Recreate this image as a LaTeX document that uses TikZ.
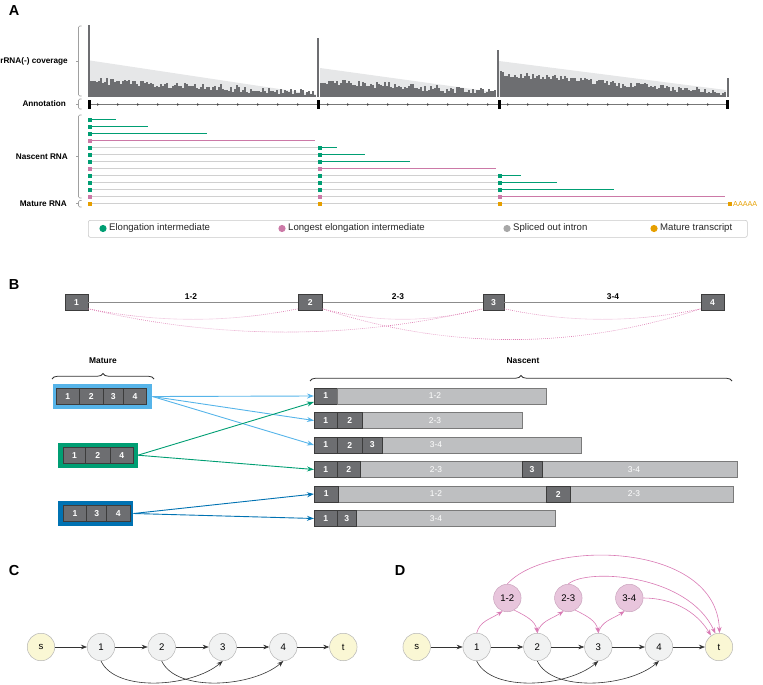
\documentclass[tikz,border=0pt]{standalone}
\usepackage{fontspec}
\setmainfont{Liberation Sans}
\usetikzlibrary{arrows.meta,decorations.pathreplacing}
\definecolor{cgreen}{HTML}{009E73}
\definecolor{cpink}{HTML}{CC79A7}
\definecolor{corange}{HTML}{E69F00}
\definecolor{csky}{HTML}{56B4E9}
\definecolor{cblue}{HTML}{0072B2}
\definecolor{covc}{HTML}{6D6E71}
\definecolor{trig}{HTML}{E6E7E8}
\definecolor{exfill}{HTML}{6D6E71}
\definecolor{exdraw}{HTML}{3C3C3C}
\definecolor{infill}{HTML}{BEBFC1}
\definecolor{indraw}{HTML}{7A7A7A}
\definecolor{rowgray}{HTML}{D0D0D0}
\definecolor{brgray}{HTML}{A0A0A0}
\definecolor{dotpink}{HTML}{DE7FB4}
\definecolor{nodegray}{HTML}{F1F2F2}
\definecolor{nodeyel}{HTML}{FAF7D4}
\definecolor{nodepink}{HTML}{E8C5DC}
\definecolor{nodepinkd}{HTML}{C9A3BD}
\definecolor{arrpink}{HTML}{D97AB4}
\definecolor{legdot}{HTML}{A7A7A7}
\definecolor{legborder}{HTML}{C8C8C8}
\definecolor{annline}{HTML}{777777}
\definecolor{darkarr}{HTML}{333333}
\definecolor{circdraw}{HTML}{B5B5B5}
\newcommand\trkbr[3]{\draw[bracket] (81.5,#1) -- (78.5,#1) -- (78.5,#2) -- (81.5,#2); \draw[bracket] (78.5,#3) -- (75.5,#3);}
\newcommand\nseg[6]{\node[#5, anchor=west, minimum width={#3-#2}] (#1) at (#2,#4) {#6};}
\tikzset{
  panel/.style={font=\bfseries\fontsize{14.5}{15}\selectfont},
  tlabel/.style={font=\bfseries\fontsize{8.2}{9}\selectfont, anchor=east, inner sep=0pt},
  bracket/.style={draw=brgray, line width=0.6pt, rounded corners=1.2pt},
  legtext/.style={font=\fontsize{9.6}{11}\selectfont, anchor=west, inner sep=0pt, text=black!85},
  exbox/.style={rectangle, draw=exdraw, fill=exfill, text=white, font=\bfseries\fontsize{8.6}{9}\selectfont, inner sep=0pt, minimum height=16, line width=0.6pt},
  inbox/.style={rectangle, draw=indraw, fill=infill, inner sep=0pt, minimum height=16, line width=0.6pt},
  inlab/.style={text=white, font=\fontsize{8.4}{9}\selectfont, inner sep=0pt},
  blabel/.style={font=\bfseries\fontsize{8.4}{9}\selectfont, inner sep=0pt},
  dotarc/.style={dotpink, line width=0.6pt, dash pattern=on 0.8pt off 1.2pt},
  bracestyle/.style={draw=black!80, line width=0.8pt, decorate, decoration={brace, amplitude=5.5pt}},
  matbox/.style={rectangle, inner sep=0pt, minimum height=25},
  arr/.style={line width=0.9pt, -{Stealth[length=7pt,width=5pt]}},
  gnode/.style={circle, draw=circdraw, fill=nodegray, minimum size=27.5, inner sep=0pt, line width=0.5pt, font=\fontsize{9.6}{10}\selectfont},
  ynode/.style={gnode, fill=nodeyel},
  pnode/.style={gnode, fill=nodepink, draw=nodepinkd},
  carr/.style={draw=darkarr, line width=0.6pt, -{Stealth[length=6pt,width=4.5pt]}},
  parr/.style={draw=arrpink, line width=0.6pt, -{Stealth[length=6pt,width=4.5pt]}},
}
\begin{document}
\begin{tikzpicture}[x=1pt,y=-1pt]
\useasboundingbox (0,0) rectangle (763,685);
% panel letters
\node[panel] (lA) at (14,11) {A};
\node[panel] (lB) at (14,285) {B};
\node[panel] (lC) at (14,571) {C};
\node[panel] (lD) at (400,571) {D};

% ---------- coverage ----------
\fill[trig] (90,60.5) -- (316,94.5) -- (316,96.5) -- (90,96.5) -- cycle;
\fill[trig] (320,68) -- (494,92) -- (494,96.5) -- (320,96.5) -- cycle;
\fill[trig] (499,61) -- (726,90) -- (726,96.5) -- (499,96.5) -- cycle;
\pgfmathsetseed{12345}
\foreach \xs/\xe/\ha/\hb in {90/316/16/3, 320/496/15/5, 500/726/23/4}{
  \pgfmathtruncatemacro\cvn{(\xe-\xs)/2-1}
  \foreach \k in {0,...,\cvn}{
    \pgfmathsetmacro\cvx{\xs+2*\k}
    \pgfmathsetmacro\cvh{max(1.5,\ha+(\hb-\ha)*\k/\cvn+3*rand+3*rand*rand*rand)}
    \fill[covc] (\cvx,96.5) rectangle ++(2.1,-\cvh);
  }
}
\fill[covc] (87.5,96.5) rectangle (90,25.5);
\fill[covc] (316.7,96.5) rectangle (319.2,38.3);
\fill[covc] (496.7,96.5) rectangle (499,50);
\fill[covc] (727,96.5) rectangle (729.3,78.3);

% brackets and labels
\trkbr{26}{96}{61}
\trkbr{99}{109}{104}
\trkbr{115}{198}{156.5}
\trkbr{200.5}{207}{203.7}
\node[tlabel] (t1) at (68,61) {rRNA(-) coverage};
\node[tlabel] (t2) at (66,104) {Annotation};
\node[tlabel] (t3) at (68,156.5) {Nascent RNA};
\node[tlabel] (t4) at (67,204) {Mature RNA};

% annotation
\draw[annline, line width=0.5pt] (88,104.5) -- (728,104.5);
\foreach \a/\b in {88/318, 318/498, 498/728}{
  \pgfmathtruncatemacro\mn{(\b-\a-12)/20}
  \foreach \j in {0,...,\mn}{
    \pgfmathsetmacro\mx{\a+9+20*\j}
    \fill[black!70] (\mx,103.2) -- (\mx+2.4,104.5) -- (\mx,105.8) -- cycle;
  }
}
\foreach \ex in {87.5, 317, 497.5, 726}{
  \fill[black] (\ex,99.5) rectangle ++(3,9.5);
}

% RNA rows
\foreach \yy/\cc/\xe in {119.5/cgreen/116, 126.5/cgreen/148, 133.5/cgreen/207, 140.5/cpink/315}{
  \draw[\cc, line width=1.1pt] (90,\yy) -- (\xe,\yy);
  \fill[\cc] (88,\yy-2) rectangle ++(4,4);
}
\foreach \yy/\cc/\xe in {147.5/cgreen/337, 154.5/cgreen/365, 161.5/cgreen/410, 168.5/cpink/496}{
  \draw[rowgray, line width=0.8pt] (90,\yy) -- (318,\yy);
  \draw[\cc, line width=1.1pt] (320,\yy) -- (\xe,\yy);
  \fill[\cc] (88,\yy-2) rectangle ++(4,4);
  \fill[\cc] (318,\yy-2) rectangle ++(4,4);
}
\foreach \yy/\cc/\xe in {175.5/cgreen/521, 182.5/cgreen/557, 189.5/cgreen/614, 196.5/cpink/725}{
  \draw[rowgray, line width=0.8pt] (90,\yy) -- (498,\yy);
  \draw[\cc, line width=1.1pt] (500,\yy) -- (\xe,\yy);
  \fill[\cc] (88,\yy-2) rectangle ++(4,4);
  \fill[\cc] (318,\yy-2) rectangle ++(4,4);
  \fill[\cc] (498,\yy-2) rectangle ++(4,4);
}
\draw[rowgray, line width=0.8pt] (90,203.5) -- (728,203.5);
\foreach \ex in {88, 318, 498, 728}{
  \fill[corange] (\ex,201.5) rectangle ++(4,4);
}
\node[anchor=west, inner sep=0pt, text=corange, font=\fontsize{7.2}{8}\selectfont] (polyA) at (733,204) {AAAAA};

% legend
\node[draw=legborder, rounded corners=2pt, minimum width=659, minimum height=17, anchor=north west, inner sep=0pt, line width=0.6pt] (legend) at (88,220) {};
\fill[cgreen] (103,228.5) circle (3.6);
\node[legtext] (lg1) at (109,228.5) {Elongation intermediate};
\fill[cpink] (282,228.5) circle (3.6);
\node[legtext] (lg2) at (288,228.5) {Longest elongation intermediate};
\fill[legdot] (507,228.5) circle (3.6);
\node[legtext] (lg3) at (513,228.5) {Spliced out intron};
\fill[corange] (654,228.5) circle (3.6);
\node[legtext] (lg4) at (660,228.5) {Mature transcript};

% ---------- panel B ----------
\node[exbox, minimum width=23] (b1) at (76.5,302.5) {1};
\node[exbox, minimum width=24] (b2) at (310.2,302.5) {2};
\node[exbox, minimum width=21] (b3) at (493.5,302.5) {3};
\node[exbox, minimum width=23] (b4) at (712.5,302.5) {4};
\draw[black!45, line width=0.6pt] (b1) -- (b2) (b2) -- (b3) (b3) -- (b4);
\node[blabel] (g12) at (191,297) {1-2};
\node[blabel] (g23) at (398,297) {2-3};
\node[blabel] (g34) at (613,297) {3-4};
\draw[dotarc] ([yshift=2pt]b1.south east) .. controls +(70,14) and +(-70,14) .. ([yshift=2pt]b2.south west);
\draw[dotarc] ([yshift=2pt]b1.south east) .. controls +(130,31) and +(-130,31) .. ([yshift=2pt]b3.south west);
\draw[dotarc] ([yshift=2pt]b2.south east) .. controls +(55,14) and +(-55,14) .. ([yshift=2pt]b3.south west);
\draw[dotarc] ([yshift=2pt]b2.south east) .. controls +(125,41) and +(-125,41) .. ([yshift=2pt]b4.south west);
\draw[dotarc] ([yshift=2pt]b3.south east) .. controls +(65,14) and +(-65,14) .. ([yshift=2pt]b4.south west);

% braces
\draw[bracestyle] (52,379) -- (154,379);
\node[blabel] (mat) at (103,361) {Mature};
\draw[bracestyle] (310,381) -- (732,381);
\node[blabel] (nas) at (523,361) {Nascent};

% mature boxes
\node[matbox, fill=csky, minimum width=99.6] (mA) at (102.5,396.5) {};
\node[exbox, minimum width=23.3] (mA1) at (67.7,396.3) {1};
\node[exbox, minimum width=24] (mA2) at (91.3,396.3) {2};
\node[exbox, minimum width=20] (mA3) at (113.3,396.3) {3};
\node[exbox, minimum width=23.4] (mA4) at (135,396.3) {4};
\node[matbox, fill=cgreen, minimum width=79.4] (mB) at (98,455.2) {};
\node[exbox, minimum width=22.4] (mB1) at (74.5,455.5) {1};
\node[exbox, minimum width=24.3] (mB2) at (97.85,455.5) {2};
\node[exbox, minimum width=23.3] (mB3) at (121.65,455.5) {4};
\node[matbox, fill=cblue, minimum width=75] (mC) at (95.8,513.5) {};
\node[exbox, minimum width=23.4] (mC1) at (75,513.7) {1};
\node[exbox, minimum width=20] (mC2) at (96.7,513.7) {3};
\node[exbox, minimum width=23.3] (mC3) at (118.35,513.7) {4};

% nascent rows
\nseg{r1a}{314}{337}{396}{exbox}{1}
\nseg{r1b}{337}{545.7}{396}{inbox}{}
\node[inlab] (r1l) at (435,396) {1-2};
\nseg{r2a}{314}{337}{420.5}{exbox}{1}
\nseg{r2c}{362}{521.7}{420.5}{inbox}{}
\nseg{r2b}{337}{362}{420.5}{exbox}{2}
\node[inlab] (r2l) at (435,420.5) {2-3};
\nseg{r3a}{314}{337}{445}{exbox}{1}
\nseg{r3b}{337}{362}{445}{exbox}{2}
\nseg{r3d}{382}{581}{445}{inbox}{}
\nseg{r3c}{362}{382}{445}{exbox}{3}
\node[inlab] (r3l) at (436,445) {3-4};
\nseg{r4a}{314}{337}{469.5}{exbox}{1}
\nseg{r4c}{360}{521.7}{469.5}{inbox}{}
\nseg{r4e}{541.7}{737}{469.5}{inbox}{}
\nseg{r4b}{337}{360}{469.5}{exbox}{2}
\nseg{r4d}{521.7}{541.7}{469.5}{exbox}{3}
\node[inlab] (r4l) at (436,469.5) {2-3};
\node[inlab] (r4m) at (634,469.5) {3-4};
\nseg{r5b}{337.7}{545.7}{494}{inbox}{}
\nseg{r5d}{570.3}{732.7}{494}{inbox}{}
\nseg{r5a}{314}{337.7}{494}{exbox}{1}
\nseg{r5c}{545.7}{570.3}{494}{exbox}{2}
\node[inlab] (r5l) at (436,494) {1-2};
\node[inlab] (r5m) at (634,494) {2-3};
\nseg{r6c}{355.7}{554.7}{518.5}{inbox}{}
\nseg{r6a}{314}{337}{518.5}{exbox}{1}
\nseg{r6b}{337}{355.7}{518.5}{exbox}{3}
\node[inlab] (r6l) at (436,518.5) {3-4};

% arrows
\draw[arr, csky] (mA.east) -- (r1a.west);
\draw[arr, csky] (mA.east) -- (r2a.west);
\draw[arr, csky] (mA.east) -- (r3a.west);
\draw[arr, cgreen] (mB.east) -- ([yshift=-6pt]r1a.west);
\draw[arr, cgreen] (mB.east) -- (r4a.west);
\draw[arr, cblue] (mC.east) -- (r5a.west);
\draw[arr, cblue] (mC.east) -- (r6a.west);

% ---------- panel C ----------
\node[ynode] (cs) at (41,647) {s};
\node[gnode] (c1) at (101,647) {1};
\node[gnode] (c2) at (161.7,647) {2};
\node[gnode] (c3) at (222.7,647) {3};
\node[gnode] (c4) at (283.3,647) {4};
\node[ynode] (ct) at (343.3,647) {t};
\draw[carr] (cs) -- (c1);
\draw[carr] (c1) -- (c2);
\draw[carr] (c2) -- (c3);
\draw[carr] (c3) -- (c4);
\draw[carr] (c4) -- (ct);
\draw[carr] (c1.south) .. controls +(15,32) and +(-30,26) .. (c3.south);
\draw[carr] (c2.south) .. controls +(15,32) and +(-30,26) .. (c4.south);

% ---------- panel D ----------
\node[ynode] (ds) at (416.7,647) {s};
\node[gnode] (d1) at (476.7,647) {1};
\node[gnode] (d2) at (537.3,647) {2};
\node[gnode] (d3) at (598.3,647) {3};
\node[gnode] (d4) at (659,647) {4};
\node[ynode] (dt) at (719,647) {t};
\node[pnode] (p12) at (507.3,598) {1-2};
\node[pnode] (p23) at (568.3,598) {2-3};
\node[pnode] (p34) at (629.3,598) {3-4};
\draw[carr] (ds) -- (d1);
\draw[carr] (d1) -- (d2);
\draw[carr] (d2) -- (d3);
\draw[carr] (d3) -- (d4);
\draw[carr] (d4) -- (dt);
\draw[carr] (d1.south) .. controls +(15,32) and +(-30,26) .. (d3.south);
\draw[carr] (d2.south) .. controls +(15,32) and +(-30,26) .. (d4.south);
\draw[parr] (d1.north) .. controls +(3,-12) and +(-12,8) .. (p12.250);
\draw[parr] (p12.300) .. controls +(12,6) and +(-2,-12) .. (d2.north);
\draw[parr] (d2.north) .. controls +(3,-12) and +(-12,8) .. (p23.250);
\draw[parr] (p23.300) .. controls +(12,6) and +(-2,-12) .. (d3.north);
\draw[parr] (d3.north) .. controls +(3,-12) and +(-12,8) .. (p34.250);
\draw[parr] (p12.north) .. controls +(40,-45) and +(-3,-92) .. (dt.88);
\draw[parr] (p23.north) .. controls +(18,-16) and +(-28,-60) .. (dt.105);
\draw[parr] (p34.east) .. controls +(28,0) and +(-15,-25) .. (dt.125);
\end{tikzpicture}
\end{document}
